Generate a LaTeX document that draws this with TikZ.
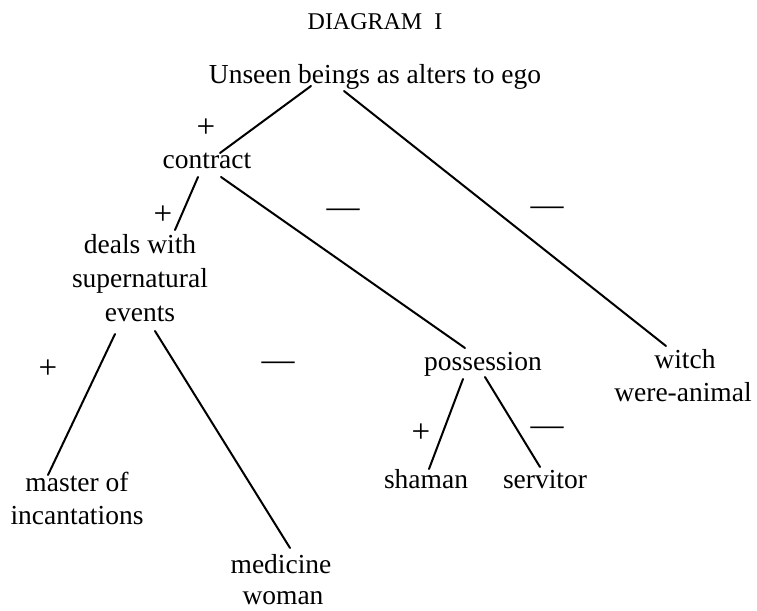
\documentclass[tikz,border=0pt]{standalone}
\usepackage{fontspec}
\setmainfont{Liberation Serif}
\begin{document}
\begin{tikzpicture}[x=1pt,y=-1pt,
  lbl/.style={anchor=base,inner sep=0pt,font=\fontsize{27.5}{33}\selectfont},
  sgn/.style={anchor=center,inner sep=0pt,font=\fontsize{33}{36}\selectfont},
  ttl/.style={anchor=base,inner sep=0pt,font=\fontsize{24}{28}\selectfont},
  edge/.style={line width=2pt,line cap=round}]
\useasboundingbox (0,0) rectangle (757,610);
% title
\node[ttl] (title) at (375,30) {DIAGRAM\ \ I};
% labels
\node[lbl] (unseen) at (375,83) {Unseen beings as alters to ego};
\node[lbl] (contract) at (207,168) {contract};
\node[lbl] (deals) at (140,253) {deals with};
\node[lbl] (deals2) at (140,287) {supernatural};
\node[lbl] (events) at (140,321) {events};
\node[lbl] (possession) at (483,370) {possession};
\node[lbl] (witch) at (685,368) {witch};
\node[lbl] (wereanimal) at (683,401) {were-animal};
\node[lbl] (shaman) at (426,488) {shaman};
\node[lbl] (servitor) at (545,488) {servitor};
\node[lbl] (master) at (77,491) {master of};
\node[lbl] (master2) at (77,524) {incantations};
\node[lbl] (medicine) at (281,573) {medicine};
\node[lbl] (medicine2) at (283,604) {woman};
% signs
\node[sgn] (p1) at (206,128) {+};
\node[sgn] (p2) at (163,215) {+};
\node[sgn] (m1) at (343,213) {—};
\node[sgn] (m2) at (547,211) {—};
\node[sgn] (p3) at (48,369) {+};
\node[sgn] (m3) at (278,366) {—};
\node[sgn] (p4) at (421,433) {+};
\node[sgn] (m4) at (547,431) {—};
% connectors
\draw[edge] ([shift={(-64,3)}]unseen.base) -- ([shift={(13,-15)}]contract.base);
\draw[edge] ([shift={(-31,8)}]unseen.base) -- ([shift={(-19,-22)}]witch.base);
\draw[edge] ([shift={(-9,9)}]contract.base) -- ([shift={(35,-23)}]deals.base);
\draw[edge] ([shift={(14,9)}]contract.base) -- ([shift={(-18,-22)}]possession.base);
\draw[edge] ([shift={(-25,13)}]events.base) -- ([shift={(-29,-16)}]master.base);
\draw[edge] ([shift={(15,10)}]events.base) -- ([shift={(9,-25)}]medicine.base);
\draw[edge] ([shift={(-20,9)}]possession.base) -- ([shift={(3,-19)}]shaman.base);
\draw[edge] ([shift={(2,7)}]possession.base) -- ([shift={(-5,-21)}]servitor.base);
\end{tikzpicture}
\end{document}
